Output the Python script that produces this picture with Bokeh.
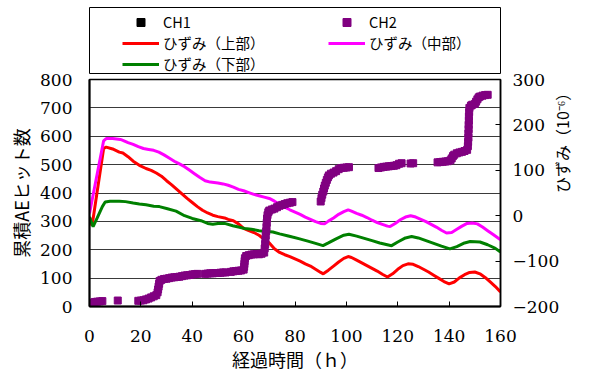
import math
from bokeh.plotting import figure
from bokeh.layouts import column
from bokeh.models import (Range1d, LinearAxis, FixedTicker, Legend, LegendItem)
from bokeh.embed import file_html
from bokeh.resources import INLINE

# ---------------- data ----------------
x_ticks = [0, 20, 40, 60, 80, 100, 120, 140, 160]
left_ticks = [0, 100, 200, 300, 400, 500, 600, 700, 800]
right_ticks = [-200, -100, 0, 100, 200, 300]

ch1_t = []
ch1_ae = []

ch2_t = [0, 1, 2, 3, 4, 5,
         11,
         19, 20, 21, 22, 23, 24, 25, 26, 26.5, 26.7, 26.9, 27.1, 27.3, 28, 29, 30, 31, 32, 33, 34, 35,
         36, 37, 38, 39, 40, 41, 42,
         45, 46, 47, 48, 49, 50, 51, 52, 53,
         55, 56, 57, 58, 59, 60, 60.2, 60.3, 60.4, 60.5, 61, 62, 63, 64, 65, 66, 67, 68, 68.2, 68.4,
         68.5, 68.6, 68.8, 68.9, 69, 69.1, 69.3, 69.6, 70, 71, 72, 73, 74, 75, 76, 77, 78, 79,
         90, 90.3, 90.6, 91, 91.3, 91.6, 92, 92.4, 92.8, 93.2, 94, 95, 96, 97, 98, 99, 100, 101,
         112.5, 113.5, 114.5, 115.5, 116.5, 117.5, 118.5, 119.5, 120.5, 121.5,
         125, 126,
         135.5, 136.5, 137.5, 138.5, 139.5, 140.5, 141, 141.5, 142, 143, 144, 145, 146, 147, 147.3,
         147.4, 147.5, 147.5, 147.6, 147.6, 147.7, 147.7, 147.8, 147.9, 148.5, 149, 150, 150.5, 151,
         151.5, 152, 153, 154, 155]
ch2_ae = [8, 13, 16, 17, 18, 19,
          21,
          20, 21, 22, 25, 28, 32, 36, 40, 50, 60, 70, 80, 90, 94, 97, 98, 100, 102, 103, 104, 105,
          107, 109, 110, 111, 113, 114, 115,
          115, 116, 117, 117, 118, 118, 119, 120, 120,
          122, 124, 125, 126, 127, 130, 140, 150, 160, 170, 178, 181, 183, 184, 185, 184, 186, 190, 205, 220,
          235, 250, 265, 280, 295, 310, 322, 332, 338, 342, 345, 350, 355, 358, 361, 364, 366, 368,
          370, 382, 394, 405, 416, 426, 436, 446, 455, 462, 468, 472, 477, 484, 488, 489, 490, 491,
          488, 490, 492, 493, 494, 495, 496, 498, 503, 505,
          504, 505,
          508, 509, 510, 511, 512, 515, 522, 530, 535, 540, 543, 545, 548, 552, 565,
          580, 595, 610, 625, 640, 655, 670, 685, 700, 708, 711, 714, 722, 730,
          737, 740, 743, 745, 746]

upper_t = [0, 1, 5.5, 6.5, 9, 11.6, 13, 15, 17, 19.4, 22, 24, 26, 28, 30, 32, 34, 36, 38, 40, 42, 44,
           46, 48, 50, 52.6, 54, 56, 58, 60, 62, 64, 66, 68, 70, 72, 74, 76, 78, 80, 82, 84, 86, 88,
           90, 91, 93, 95, 97, 99, 100.7, 102, 104, 106, 108, 110, 112, 114, 116, 118, 120, 122, 124,
           126, 128, 130, 132, 134, 136, 138, 140, 142, 144, 146, 148, 150, 152, 154, 156, 158, 160]
upper_s = [-3, -22, 148, 151, 147, 140, 138, 130, 120, 111, 104, 100, 94, 87, 77, 68, 58, 48, 38, 29,
           20, 12, 6, 1, -2, -5, -8, -11, -18, -28, -33, -37, -43, -52, -60, -73, -81, -86, -90, -95,
           -100, -106, -111, -118, -125, -128, -120, -111, -102, -94, -90, -92, -98, -104, -110, -116,
           -122, -129, -135, -128, -118, -110, -106, -107, -112, -118, -124, -131, -138, -145, -150,
           -146, -137, -130, -125, -124, -128, -136, -146, -156, -168]

middle_t = [0, 5.5, 6.5, 9, 12, 13, 15, 17, 19, 21, 23, 25, 27, 29, 31, 33, 35, 37, 39, 41, 43, 45,
            47, 50, 52, 54, 56, 58, 60, 62, 64, 66, 68, 70, 72, 74, 76, 78, 80, 82, 84, 86, 88, 90,
            91.5, 93, 95, 97, 99, 100.7, 102, 104, 106, 108, 110, 112, 114, 116, 117, 119, 121, 123,
            125, 127, 129, 131, 133, 135, 137, 139, 141, 143, 145, 147, 149, 151, 153, 155, 157, 160]
middle_s = [5, 165, 170, 170, 168, 166, 161, 157, 152, 148, 146, 144, 140, 134, 127, 120, 114, 108,
            100, 92, 84, 77, 74, 72, 70, 67, 63, 58, 55, 51, 47, 44, 41, 38, 32, 25, 19, 13, 8, 3, -3,
            -8, -13, -17, -18, -12, -5, 3, 9, 13, 10, 5, 1, -4, -10, -15, -19, -23, -24, -17, -9, -3,
            0, -3, -8, -13, -19, -25, -32, -38, -37, -30, -23, -17, -16, -18, -25, -33, -41, -53]

lower_t = [0, 1.4, 3, 5, 6.1, 8, 11.6, 14, 17, 19.4, 22, 25, 27.2, 30, 33.7, 37, 40, 43.4, 46, 48,
           50, 52.6, 55.8, 58, 60.4, 63, 66, 69.5, 71.4, 74, 77, 79, 81.8, 85, 88, 90.9, 93, 96, 99,
           101, 104, 107, 110, 113, 117.6, 120, 123, 125.4, 128, 131, 134, 137, 140.3, 143, 146,
           148.2, 152, 155, 158, 160]
lower_s = [-3, -24, -5, 20, 30, 32, 32, 31, 28, 26, 24, 21, 20, 16, 10, 0, -6, -11, -17, -19, -17,
           -17, -22, -25, -28, -30, -33, -35, -36, -40, -44, -47, -51, -56, -61, -66, -60, -51, -43,
           -41, -45, -50, -55, -60, -66, -58, -49, -46, -49, -55, -61, -67, -73, -68, -60, -57, -58,
           -64, -72, -80]

# ---------------- styles ----------------
serif = "DejaVu Serif"
jp = "Noto Sans CJK JP"
C_UP, C_MID, C_LOW, C_CH2 = "#FF0000", "#FF00FF", "#008000", "#800080"
TICK_SIZE = "17px"

W = 590
BL, BR = 89, 89
H_LEG = 74
OVERLAP = 12
H_MAIN = 316

# ---------------- legend panel (the boxed legend above the chart) ----------------
lg = figure(width=W, height=H_LEG, output_backend="svg", toolbar_location=None,
            x_range=Range1d(1000, 1001), y_range=Range1d(5000, 5001),
            min_border_left=BL, min_border_right=BR + 1, min_border_top=7, min_border_bottom=1)
lg.axis.visible = False
lg.grid.visible = False
lg.outline_line_color = "black"
lg.outline_line_width = 1
lg.background_fill_color = "white"
lg.border_fill_alpha = 0
# legend swatches (drawn outside this panel's ranges, so only their legend glyphs show)
d_ch1 = lg.scatter(ch2_t, ch2_ae, marker="square", size=6, fill_color="black", line_color="black")
d_ch2 = lg.scatter(ch2_t, ch2_ae, marker="square", size=6, fill_color=C_CH2, line_color=C_CH2)
d_up = lg.line(upper_t, upper_s, line_color=C_UP, line_width=3)
d_mid = lg.line(middle_t, middle_s, line_color=C_MID, line_width=3)
d_low = lg.line(lower_t, lower_s, line_color=C_LOW, line_width=3)
legend = Legend(items=[
    LegendItem(label="CH1", renderers=[d_ch1]),
    LegendItem(label="CH2", renderers=[d_ch2]),
    LegendItem(label="ひずみ（上部）", renderers=[d_up]),
    LegendItem(label="ひずみ（中部）", renderers=[d_mid]),
    LegendItem(label="ひずみ（下部）", renderers=[d_low]),
], orientation="horizontal", ncols=2, location=(32, -2))
legend.padding = 1
legend.spacing = 0
legend.margin = 0
legend.glyph_width = 37
legend.glyph_height = 20
legend.label_height = 20
legend.label_width = 165
legend.label_standoff = 4
legend.label_text_font = jp
legend.label_text_font_size = "14.5px"
legend.label_text_color = "black"
legend.border_line_alpha = 0
legend.background_fill_alpha = 0
lg.add_layout(legend, "center")

# ---------------- main chart ----------------
p = figure(width=W, height=H_MAIN, output_backend="svg", toolbar_location=None,
           x_range=Range1d(0, 160), y_range=Range1d(0, 800),
           min_border_left=BL, min_border_right=BR, min_border_top=17, min_border_bottom=72)
p.margin = (-OVERLAP, 0, 0, 0)
p.extra_y_ranges = {"strain": Range1d(-200, 300)}
p.background_fill_color = "white"
p.border_fill_alpha = 0
p.outline_line_color = "black"
p.outline_line_width = 1.5

xa = p.xaxis[0]
xa.ticker = FixedTicker(ticks=x_ticks)
xa.major_tick_in = 5
xa.major_tick_out = 0
xa.minor_tick_in = 0
xa.minor_tick_out = 0
xa.axis_line_width = 2
xa.axis_line_color = "black"
xa.major_tick_line_color = "black"
xa.major_label_text_font = serif
xa.major_label_text_font_size = TICK_SIZE
xa.major_label_text_color = "black"
xa.major_label_standoff = 23
xa.axis_label = "経過時間（ｈ）"
xa.axis_label_text_font = jp
xa.axis_label_text_font_size = "18px"
xa.axis_label_text_font_style = "normal"
xa.axis_label_text_color = "black"
xa.axis_label_standoff = 1

ya = p.yaxis[0]
ya.ticker = FixedTicker(ticks=left_ticks)
ya.major_tick_in = 0
ya.major_tick_out = 0
ya.minor_tick_in = 0
ya.minor_tick_out = 0
ya.axis_line_width = 2
ya.axis_line_color = "black"
ya.major_label_text_font = serif
ya.major_label_text_font_size = TICK_SIZE
ya.major_label_text_color = "black"
ya.major_label_standoff = 17
ya.axis_label = "累積AEヒット数"
ya.axis_label_text_font = jp
ya.axis_label_text_font_size = "18px"
ya.axis_label_text_font_style = "normal"
ya.axis_label_text_color = "black"
ya.axis_label_standoff = 3

ra = LinearAxis(y_range_name="strain", ticker=FixedTicker(ticks=right_ticks))
ra.major_tick_in = 5
ra.major_tick_out = 0
ra.minor_tick_in = 0
ra.minor_tick_out = 0
ra.axis_line_width = 1.5
ra.axis_line_color = "black"
ra.major_tick_line_color = "black"
ra.major_label_text_font = serif
ra.major_label_text_font_size = TICK_SIZE
ra.major_label_text_color = "black"
ra.major_label_standoff = 12
ra.axis_label = "ひずみ（10⁻⁶）"
ra.axis_label_orientation = math.pi / 2
ra.axis_label_text_font = jp
ra.axis_label_text_font_size = "16px"
ra.axis_label_text_font_style = "normal"
ra.axis_label_text_color = "black"
ra.axis_label_standoff = 0
p.add_layout(ra, "right")

p.xgrid.visible = False
p.ygrid.ticker = FixedTicker(ticks=left_ticks)
p.ygrid.grid_line_color = "#3a3a3a"
p.ygrid.grid_line_width = 1

p.line(upper_t, upper_s, y_range_name="strain", line_color=C_UP, line_width=3)
p.line(middle_t, middle_s, y_range_name="strain", line_color=C_MID, line_width=3)
p.line(lower_t, lower_s, y_range_name="strain", line_color=C_LOW, line_width=3)
p.scatter(ch1_t, ch1_ae, marker="square", size=7, fill_color="black", line_color="black")
p.scatter(ch2_t, ch2_ae, marker="square", size=7, fill_color=C_CH2, line_color=C_CH2)

layout = column(lg, p, spacing=0)
open("out.html", "w").write(file_html(layout, INLINE))
